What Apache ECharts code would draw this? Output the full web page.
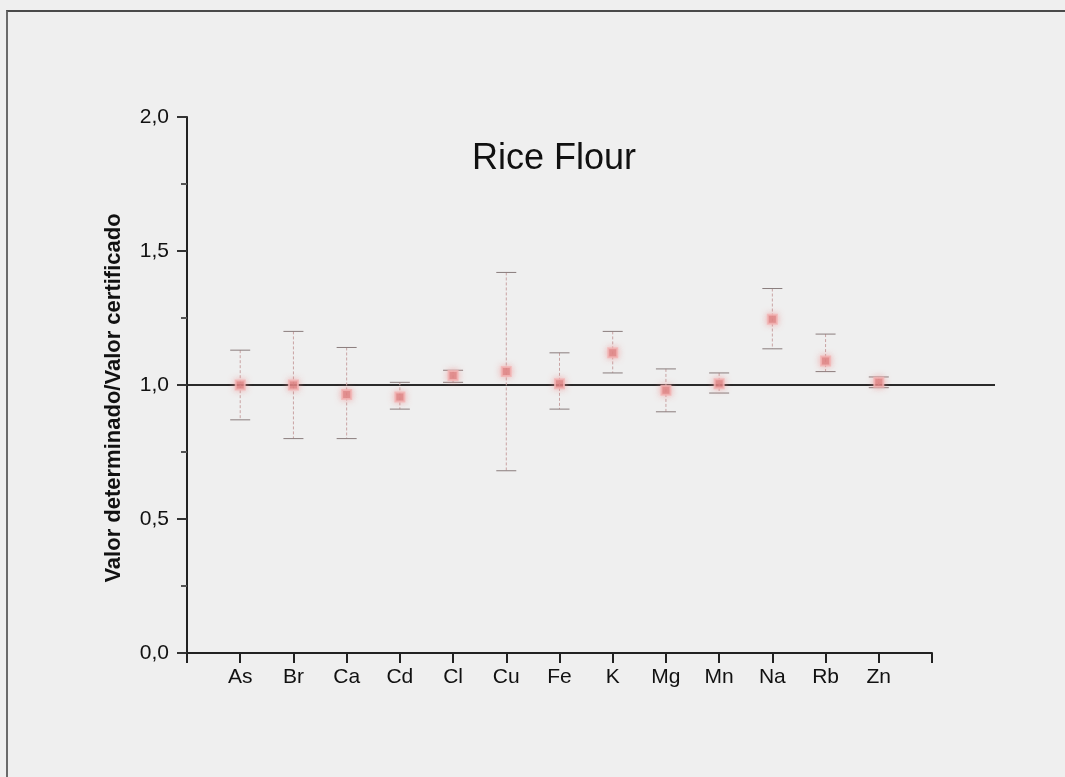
<!DOCTYPE html>
<html>
<head>
<meta charset="utf-8">
<title>Rice Flour</title>
<script src="https://cdn.jsdelivr.net/npm/echarts@6/dist/echarts.min.js"></script>
<style>
  html, body { margin: 0; padding: 0; background: #efefef; }
  #chart { width: 1065px; height: 777px; position: relative; }
  #frame {
    position: absolute; left: 6px; top: 10px; right: 0; bottom: 0;
    border-top: 2px solid #4a4a4a; border-left: 2px solid #6a6a6a;
    pointer-events: none;
  }
</style>
</head>
<body>
<div id="chart"></div>
<div id="frame"></div>
<script>
// Elements analysed in the rice flour reference material
const elements = ['As', 'Br', 'Ca', 'Cd', 'Cl', 'Cu', 'Fe', 'K', 'Mg', 'Mn', 'Na', 'Rb', 'Zn'];
// Ratio determined / certified value
const ratio = [1.00, 1.00, 0.965, 0.955, 1.035, 1.05, 1.005, 1.12, 0.98, 1.005, 1.245, 1.09, 1.01];
// Lower and upper ends of the uncertainty bars
const lower = [0.87, 0.80, 0.80, 0.91, 1.01, 0.68, 0.91, 1.045, 0.90, 0.97, 1.135, 1.05, 0.99];
const upper = [1.13, 1.20, 1.14, 1.01, 1.055, 1.42, 1.12, 1.20, 1.06, 1.045, 1.36, 1.19, 1.03];
// Y-axis ticks
const yTicks = [0.0, 0.5, 1.0, 1.5, 2.0];

const font = '"Liberation Sans", Arial, sans-serif';
const chart = echarts.init(document.getElementById('chart'), null, { renderer: 'canvas' });

const points = elements.map((e, i) => [i + 1, ratio[i]]);
const bars = elements.map((e, i) => [i + 1, lower[i], upper[i]]);

function renderBar(params, api) {
  const x = api.value(0);
  const lo = api.coord([x, api.value(1)]);
  const hi = api.coord([x, api.value(2)]);
  const half = 10;
  const barStyle = { stroke: '#c9a3a3', lineWidth: 1, lineDash: [3, 2] };
  const capStyle = { stroke: '#8a7d7d', lineWidth: 1 };
  return {
    type: 'group',
    children: [
      { type: 'line', shape: { x1: hi[0], y1: hi[1], x2: lo[0], y2: lo[1] }, style: barStyle },
      { type: 'line', shape: { x1: hi[0] - half, y1: hi[1], x2: hi[0] + half, y2: hi[1] }, style: capStyle },
      { type: 'line', shape: { x1: lo[0] - half, y1: lo[1], x2: lo[0] + half, y2: lo[1] }, style: capStyle }
    ]
  };
}

chart.setOption({
  backgroundColor: '#efefef',
  animation: false,
  title: {
    text: 'Rice Flour',
    left: 467, top: 136,
    textStyle: { fontFamily: font, fontSize: 36, fontWeight: 'normal', color: '#111' }
  },
  graphic: [{
    type: 'text',
    x: 114, y: 398,
    rotation: Math.PI / 2,
    style: {
      text: 'Valor determinado/Valor certificado',
      fontFamily: font, fontSize: 22, fontWeight: 'bold', fill: '#111',
      textAlign: 'center', textVerticalAlign: 'middle'
    }
  }],
  grid: [
    { left: 187, right: 133, top: 117, bottom: 124 },
    { left: 187, right: 70, top: 117, bottom: 124 }
  ],
  xAxis: [{
    type: 'value', gridIndex: 0, min: 0, max: elements.length + 1, interval: 1,
    splitLine: { show: false },
    axisLine: { lineStyle: { color: '#222', width: 2 } },
    axisTick: { inside: false, length: 10, lineStyle: { color: '#222', width: 2 } },
    axisLabel: {
      margin: 14, fontFamily: font, fontSize: 21, color: '#111',
      formatter: v => (v >= 1 && v <= elements.length) ? elements[v - 1] : ''
    }
  }, {
    type: 'value', gridIndex: 1, min: 0, max: 1, show: false
  }],
  yAxis: [{
    type: 'value', gridIndex: 0, min: 0, max: 2, interval: 0.5,
    splitLine: { show: false },
    axisLine: { show: true, lineStyle: { color: '#222', width: 2 } },
    axisTick: { show: true, length: 10, lineStyle: { color: '#333', width: 2 } },
    minorTick: { show: true, splitNumber: 2, length: 6, lineStyle: { color: '#555', width: 2 } },
    axisLabel: {
      margin: 18, fontFamily: font, fontSize: 21, color: '#111',
      formatter: v => yTicks.includes(v) ? v.toFixed(1).replace('.', ',') : ''
    }
  }, {
    type: 'value', gridIndex: 1, min: 0, max: 2, show: false
  }],
  series: [
    {
      // reference ratio = 1
      type: 'line', xAxisIndex: 1, yAxisIndex: 1,
      data: [[0, 1], [1, 1]],
      symbol: 'none', silent: true,
      lineStyle: { color: '#2a2a2a', width: 2 },
      z: 1
    },
    {
      type: 'custom', xAxisIndex: 0, yAxisIndex: 0,
      data: bars, renderItem: renderBar, z: 2
    },
    {
      type: 'scatter', xAxisIndex: 0, yAxisIndex: 0,
      data: points, symbol: 'rect', symbolSize: 9,
      itemStyle: {
        color: '#d98080', borderColor: '#f2b5b5', borderWidth: 2,
        shadowBlur: 6, shadowColor: 'rgba(240,140,140,0.7)'
      },
      z: 3
    }
  ]
});
</script>
</body>
</html>
